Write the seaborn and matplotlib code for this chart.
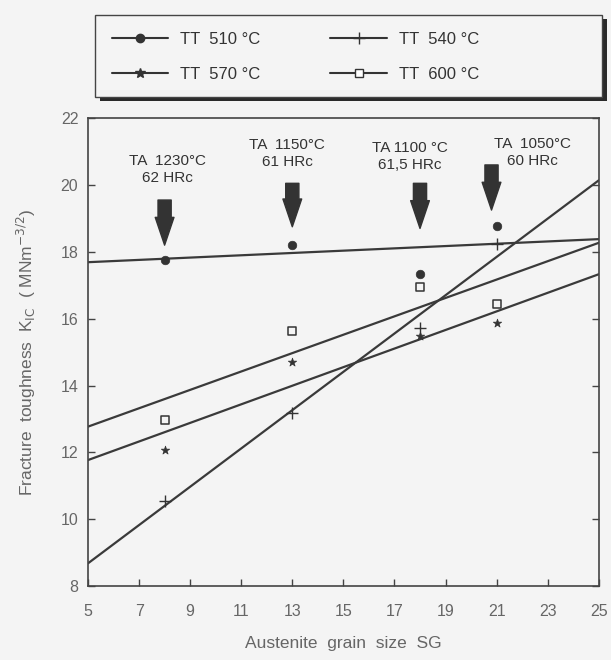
import numpy as np
import pandas as pd
import matplotlib
matplotlib.use("Agg")
import matplotlib.pyplot as plt
from matplotlib.lines import Line2D
from matplotlib.patches import Rectangle
import seaborn as sns

# ==== data ====
grain_size = [8, 13, 18, 21]
k_510 = [17.75, 18.2, 17.35, 18.78]
k_540 = [10.55, 13.17, 15.71, 18.23]
k_570 = [12.07, 14.71, 15.48, 15.88]
k_600 = [12.97, 15.63, 16.95, 16.44]

# fitted lines, value at SG = 5 and SG = 25
fit_x = [5, 25]
fit_510 = [17.69, 18.38]
fit_540 = [8.68, 20.14]
fit_570 = [11.77, 17.33]
fit_600 = [12.77, 18.27]

series_names = ["TT  510 °C", "TT  540 °C", "TT  570 °C", "TT  600 °C"]
# legend fills column-wise: row 1 = 510, 540 ; row 2 = 570, 600
legend_order = [0, 2, 1, 3]

# austenitizing annotations
ta_x = [8, 13, 18, 20.8]
ta_labels = ["TA  1230°C\n62 HRc", "TA  1150°C\n61 HRc",
             "TA 1100 °C\n61,5 HRc", "TA  1050°C\n60 HRc"]
ta_label_x = [8.1, 12.8, 17.6, 22.4]
ta_label_y = [20.47, 20.95, 20.86, 20.97]
arrow_top = [19.55, 20.05, 20.05, 20.6]
arrow_tip = [18.2, 18.75, 18.7, 19.25]

x_ticks = [5, 7, 9, 11, 13, 15, 17, 19, 21, 23, 25]
y_ticks = [8, 10, 12, 14, 16, 18, 20, 22]

# ==== style ====
bg = "#f4f4f4"
ink = "#333333"
grey = "#666666"

sns.set_style("ticks", rc={"axes.facecolor": bg, "figure.facecolor": bg,
                           "axes.edgecolor": "#444444"})
plt.rcParams['font.family'] = ['Liberation Sans', 'DejaVu Sans']

fig = plt.figure(figsize=(6.11, 6.6), dpi=100)
ax = fig.add_axes([0.144, 0.112, 0.836, 0.709])

points = pd.DataFrame({
    "SG": grain_size * 4,
    "K": k_510 + k_540 + k_570 + k_600,
    "series": np.repeat(series_names, len(grain_size)),
})
fits = pd.DataFrame({
    "SG": fit_x * 4,
    "K": fit_510 + fit_540 + fit_570 + fit_600,
    "series": np.repeat(series_names, len(fit_x)),
})

sns.lineplot(data=fits, x="SG", y="K", units="series", estimator=None,
             color="#3a3a3a", linewidth=1.6, ax=ax, legend=False)

marker_kw = {
    series_names[0]: dict(marker="o", s=38, color=ink, edgecolor=ink),
    series_names[1]: dict(marker="+", s=80, color=ink, linewidth=1.0),
    series_names[2]: dict(marker="*", s=40, color=ink, edgecolor=ink),
    series_names[3]: dict(marker="s", s=40, color=bg, edgecolor=ink, linewidth=1.1),
}
for name in series_names:
    sub = points[points["series"] == name]
    sns.scatterplot(data=sub, x="SG", y="K", ax=ax, legend=False, zorder=3,
                    **marker_kw[name])

# arrows + labels
for i in range(len(ta_x)):
    ax.annotate("", xy=(ta_x[i], arrow_tip[i]), xytext=(ta_x[i], arrow_top[i]),
                arrowprops=dict(arrowstyle="simple,head_width=1.35,head_length=2.0,tail_width=0.95",
                                color=ink, mutation_scale=10, shrinkA=0, shrinkB=0))
    ax.text(ta_label_x[i], ta_label_y[i], ta_labels[i], ha="center", va="center",
            fontsize=11, color=ink, linespacing=1.3)

ax.set_xlim(5, 25)
ax.set_ylim(8, 22)
ax.set_xticks(x_ticks)
ax.set_yticks(y_ticks)
ax.tick_params(axis="both", direction="in", length=5, width=1.0,
               colors="#444444", labelcolor=grey, labelsize=11.5, pad=7)
ax.tick_params(axis="x", pad=13)
ax.tick_params(axis="y", right=True)
for side in ax.spines.values():
    side.set_linewidth(1.2)

ax.set_xlabel("Austenite  grain  size  SG", fontsize=12.5, color=grey, labelpad=12)
ax.set_ylabel(r"Fracture  toughness  K$_{\rm IC}$  ( MNm$^{-3/2}$)", fontsize=12.5,
              color=grey, labelpad=16)

# legend box above the axes, with a hard drop shadow
box = (95 / 611, 1 - 97 / 660, 507 / 611, 82 / 660)
fig.patches.append(Rectangle((box[0] + 5 / 611, box[1] - 4 / 660), box[2], box[3],
                             transform=fig.transFigure, facecolor="#2a2a2a",
                             edgecolor="none", zorder=1))
fig.patches.append(Rectangle(box[:2], box[2], box[3], transform=fig.transFigure,
                             facecolor=bg, edgecolor="#444444", linewidth=1.0, zorder=2))

styles = [dict(marker="o", markersize=6, markerfacecolor=ink),
          dict(marker="+", markersize=8),
          dict(marker="*", markersize=7, markerfacecolor=ink),
          dict(marker="s", markersize=6, markerfacecolor="white")]
handles = [Line2D([], [], color=ink, linewidth=1.5, markeredgecolor=ink, **styles[i])
           for i in legend_order]
leg = fig.legend(handles, [series_names[i] for i in legend_order], ncol=2,
                 loc="upper left", bbox_to_anchor=(box[0], box[1] + box[3]),
                 borderaxespad=0, frameon=False,
                 fontsize=12, handlelength=3.4, handletextpad=0.7,
                 columnspacing=4.2, labelspacing=1.2, borderpad=1.0,
                 labelcolor=ink)
leg.set_zorder(3)

fig.savefig("out.png", dpi=100, facecolor=bg)
